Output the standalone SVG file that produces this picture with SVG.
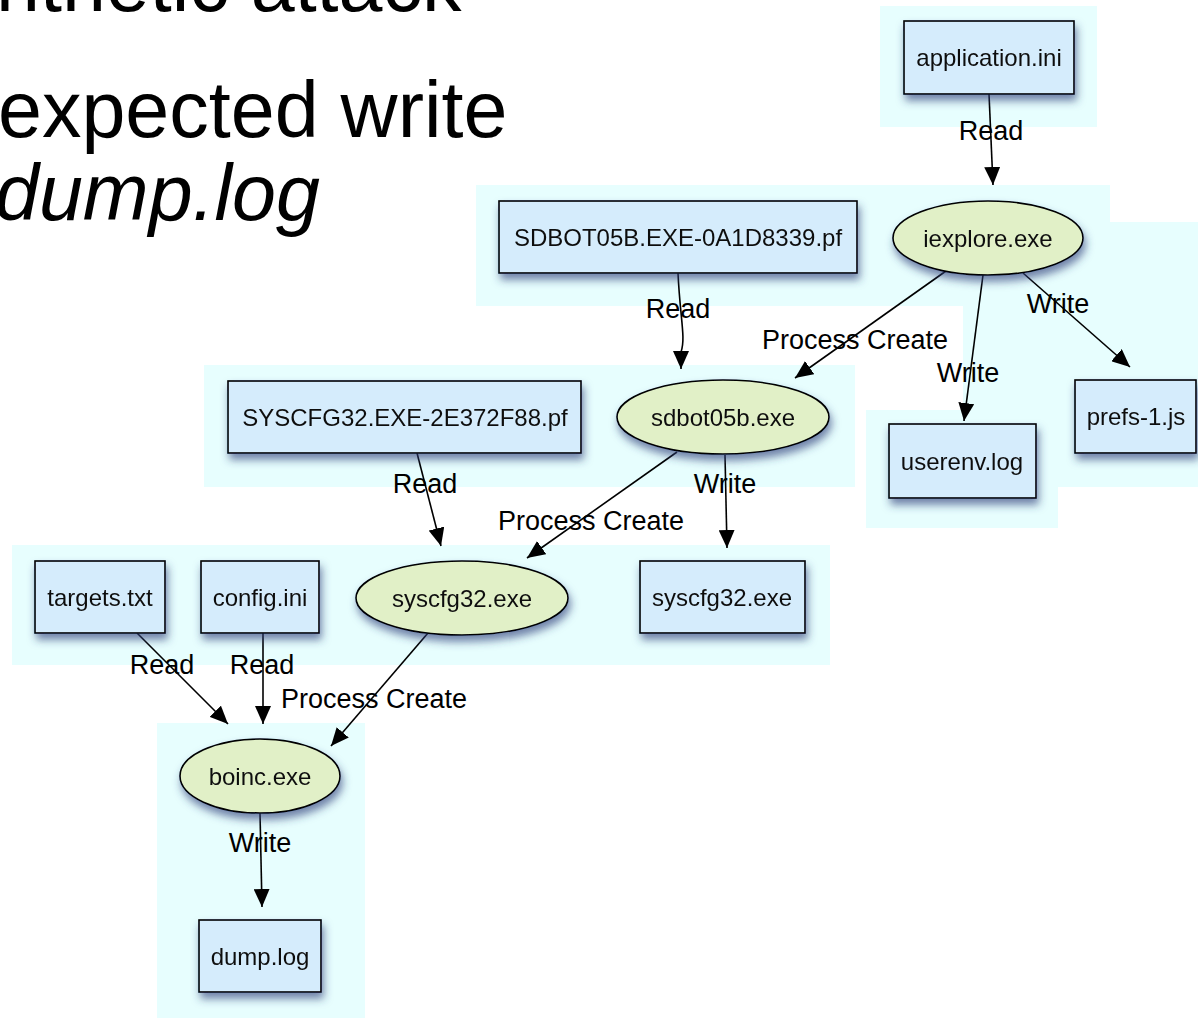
<svg xmlns="http://www.w3.org/2000/svg" width="1198" height="1020" viewBox="0 0 1198 1020">
<style>
.cl{fill:#e7fefe;stroke:none}
.box{fill:#d5ecfc;stroke:#000;stroke-width:1.6}
.ell{fill:#e1f0c7;stroke:#000;stroke-width:1.6}
.nl{font-family:"Liberation Sans",Arial,sans-serif;font-size:24px;text-anchor:middle;fill:#111}
.el{font-family:"Liberation Sans",Arial,sans-serif;font-size:27px;text-anchor:middle;fill:#000}
.e{fill:none;stroke:#000;stroke-width:1.6}
.title{font-family:"Liberation Sans",Arial,sans-serif;font-size:79px;fill:#000}
</style>
<defs>
<filter id="sh" x="-20%" y="-30%" width="140%" height="170%">
<feGaussianBlur in="SourceAlpha" stdDeviation="4"/>
<feOffset dx="2" dy="6" result="b"/>
<feFlood flood-color="#2e3f7a" flood-opacity="0.65"/>
<feComposite in2="b" operator="in"/>
<feMerge><feMergeNode/><feMergeNode in="SourceGraphic"/></feMerge>
</filter>
<marker id="ah" markerWidth="18" markerHeight="16" refX="18" refY="8" orient="auto" markerUnits="userSpaceOnUse">
<path d="M0,0 L18,8 L0,16 z" fill="#000"/>
</marker>
</defs>
<rect width="1198" height="1020" fill="#fff"/>
<g id="title">
<text class="title" x="-4" y="11">nthetic attack</text>
<text class="title" x="-2" y="137">expected write</text>
<text class="title" x="-5" y="220" font-style="italic">dump.log</text>
</g>
<g id="clusters">
<rect class="cl" x="880" y="6" width="217" height="121"/>
<rect class="cl" x="476" y="185" width="634" height="121"/>
<rect class="cl" x="1058" y="222" width="140" height="265"/>
<rect class="cl" x="963" y="222" width="235" height="188"/>
<rect class="cl" x="866" y="410" width="192" height="118"/>
<rect class="cl" x="204" y="365" width="651" height="122"/>
<rect class="cl" x="12" y="545" width="818" height="120"/>
<rect class="cl" x="157" y="723" width="208" height="295"/>
</g>
<g id="connectors">
<path class="e" d="M989,94 L993,185" marker-end="url(#ah)"/>
<text class="el" x="991" y="140">Read</text>
<path class="e" d="M678,273 C680,318 686,338 681,352 L681,369" marker-end="url(#ah)"/>
<text class="el" x="678" y="318">Read</text>
<path class="e" d="M946,271 L795,378" marker-end="url(#ah)"/>
<text class="el" x="855" y="349">Process Create</text>
<path class="e" d="M983,275 L964,421" marker-end="url(#ah)"/>
<text class="el" x="968" y="382">Write</text>
<path class="e" d="M1023,273 L1130,367" marker-end="url(#ah)"/>
<text class="el" x="1058" y="313">Write</text>
<path class="e" d="M417,453 L441,546" marker-end="url(#ah)"/>
<text class="el" x="425" y="493">Read</text>
<path class="e" d="M677,452 L527,558" marker-end="url(#ah)"/>
<text class="el" x="591" y="530">Process Create</text>
<path class="e" d="M725,455 L727,548" marker-end="url(#ah)"/>
<text class="el" x="725" y="493">Write</text>
<path class="e" d="M137,633 L228,724" marker-end="url(#ah)"/>
<text class="el" x="162" y="674">Read</text>
<path class="e" d="M263,633 L263,724" marker-end="url(#ah)"/>
<text class="el" x="262" y="674">Read</text>
<path class="e" d="M428,633 L331,746" marker-end="url(#ah)"/>
<text class="el" x="374" y="708">Process Create</text>
<path class="e" d="M260,813 L262,907" marker-end="url(#ah)"/>
<text class="el" x="260" y="852">Write</text>
</g>
<g id="n_application_ini" filter="url(#sh)"><rect class="box" x="904" y="21" width="170" height="73"/><text class="nl" x="989" y="66">application.ini</text></g>
<g id="n_sdbot_pf" filter="url(#sh)"><rect class="box" x="499" y="201" width="358" height="72"/><text class="nl" x="678" y="246">SDBOT05B.EXE-0A1D8339.pf</text></g>
<g id="n_iexplore" filter="url(#sh)"><ellipse class="ell" cx="988" cy="238" rx="95" ry="37"/><text class="nl" x="988" y="247">iexplore.exe</text></g>
<g id="n_prefs" filter="url(#sh)"><rect class="box" x="1075" y="380" width="121" height="73"/><text class="nl" x="1136" y="425">prefs-1.js</text></g>
<g id="n_userenv" filter="url(#sh)"><rect class="box" x="889" y="424" width="147" height="74"/><text class="nl" x="962" y="470">userenv.log</text></g>
<g id="n_syscfg_pf" filter="url(#sh)"><rect class="box" x="228" y="381" width="353" height="72"/><text class="nl" x="405" y="426">SYSCFG32.EXE-2E372F88.pf</text></g>
<g id="n_sdbot" filter="url(#sh)"><ellipse class="ell" cx="723" cy="417" rx="106" ry="37"/><text class="nl" x="723" y="426">sdbot05b.exe</text></g>
<g id="n_targets" filter="url(#sh)"><rect class="box" x="35" y="561" width="130" height="72"/><text class="nl" x="100" y="606">targets.txt</text></g>
<g id="n_config" filter="url(#sh)"><rect class="box" x="201" y="561" width="118" height="72"/><text class="nl" x="260" y="606">config.ini</text></g>
<g id="n_syscfg_proc" filter="url(#sh)"><ellipse class="ell" cx="462" cy="598" rx="106" ry="37"/><text class="nl" x="462" y="607">syscfg32.exe</text></g>
<g id="n_syscfg_file" filter="url(#sh)"><rect class="box" x="640" y="561" width="165" height="72"/><text class="nl" x="722" y="606">syscfg32.exe</text></g>
<g id="n_boinc" filter="url(#sh)"><ellipse class="ell" cx="260" cy="776" rx="80" ry="37"/><text class="nl" x="260" y="785">boinc.exe</text></g>
<g id="n_dump" filter="url(#sh)"><rect class="box" x="199" y="920" width="122" height="72"/><text class="nl" x="260" y="965">dump.log</text></g>
</svg>
